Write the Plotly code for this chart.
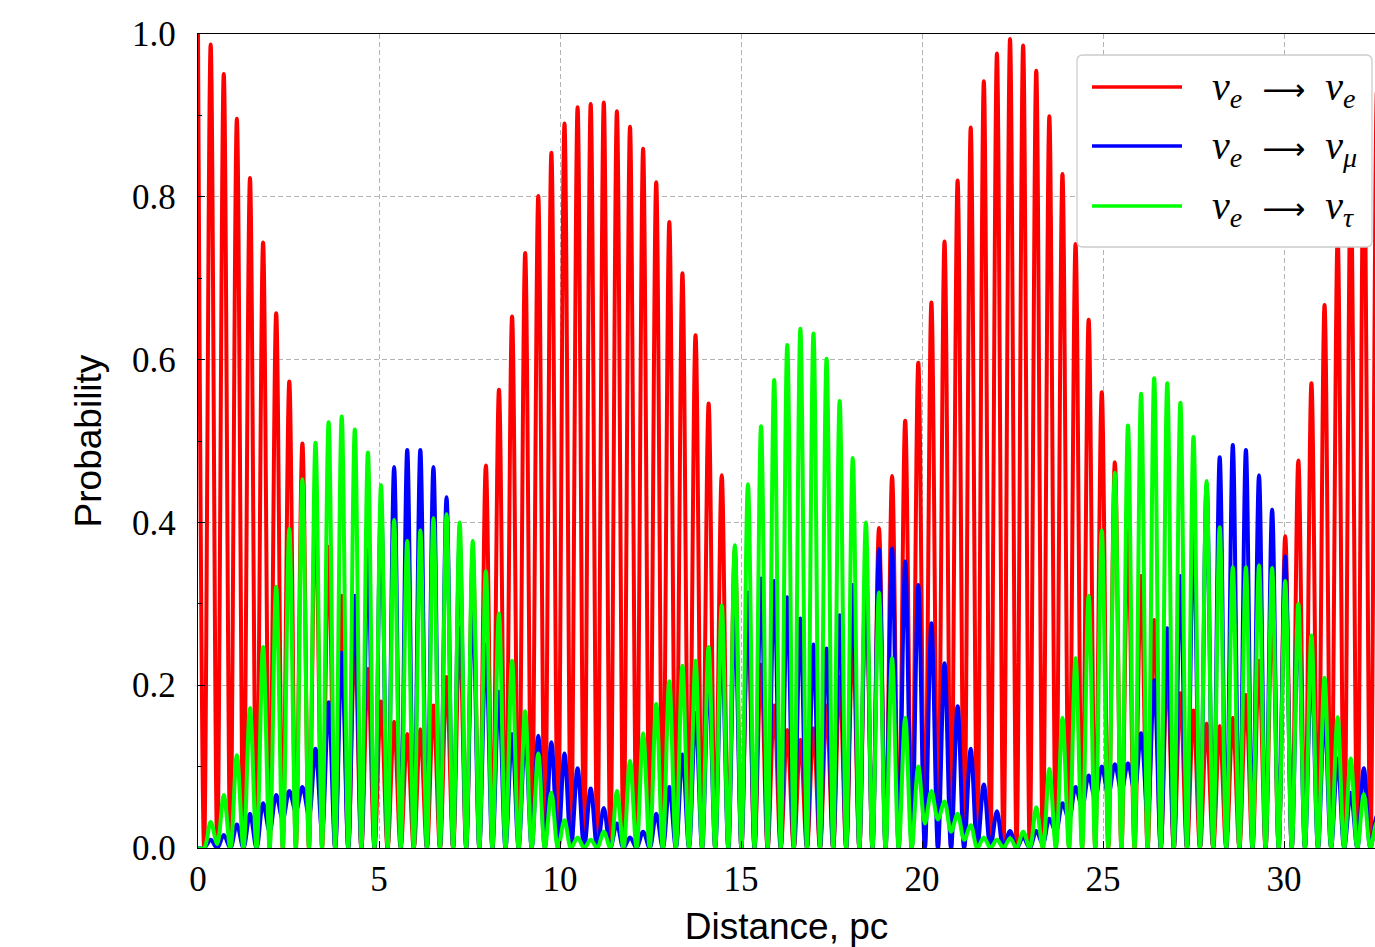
import plotly.graph_objects as go

# ---------------- data ----------------
series_names = ["ν<sub>e</sub> → ν<sub>e</sub>",
                "ν<sub>e</sub> → ν<sub>μ</sub>",
                "ν<sub>e</sub> → ν<sub>τ</sub>"]
series_colors = ["#ff0000", "#0000ff", "#00ff00"]

# fast oscillation: position of the first peak and the spacing of peaks (pc)
first_peak_pc = 0.35
peak_spacing_pc = 0.362

# value at distance 0
start_values = [1.0, 0.0, 0.0]

# peak heights (one per oscillation, k = 0..89)
red_peaks = [0.987, 0.951, 0.896, 0.823, 0.744, 0.657, 0.573, 0.497, 0.43, 0.37,
             0.31, 0.26, 0.22, 0.18, 0.155, 0.14, 0.146, 0.175, 0.21, 0.27,
             0.36, 0.47, 0.563, 0.653, 0.731, 0.801, 0.854, 0.89, 0.91, 0.914,
             0.916, 0.905, 0.886, 0.859, 0.818, 0.769, 0.706, 0.63, 0.546, 0.458,
             0.367, 0.29, 0.225, 0.175, 0.145, 0.133, 0.147, 0.175, 0.21, 0.26,
             0.33, 0.393, 0.457, 0.525, 0.596, 0.67, 0.745, 0.82, 0.885, 0.942,
             0.976, 0.994, 0.986, 0.955, 0.899, 0.828, 0.742, 0.649, 0.56, 0.474,
             0.39, 0.334, 0.28, 0.22, 0.19, 0.169, 0.153, 0.15, 0.16, 0.188,
             0.23, 0.30, 0.383, 0.476, 0.571, 0.667, 0.75, 0.82, 0.88, 0.93]
blue_peaks = [0.01, 0.016, 0.029, 0.042, 0.055, 0.065, 0.07, 0.075, 0.122, 0.179,
              0.24, 0.31, 0.367, 0.425, 0.468, 0.489, 0.489, 0.468, 0.431, 0.377,
              0.312, 0.25, 0.192, 0.14, 0.14, 0.138, 0.13, 0.116, 0.098, 0.073,
              0.049, 0.03, 0.013, 0.02, 0.042, 0.075, 0.115, 0.166, 0.214, 0.256,
              0.289, 0.314, 0.331, 0.328, 0.308, 0.282, 0.25, 0.245, 0.286, 0.323,
              0.35, 0.367, 0.368, 0.352, 0.323, 0.276, 0.227, 0.174, 0.122, 0.078,
              0.045, 0.021, 0.013, 0.021, 0.036, 0.055, 0.075, 0.089, 0.1, 0.103,
              0.104, 0.141, 0.206, 0.27, 0.334, 0.396, 0.446, 0.48, 0.495, 0.489,
              0.458, 0.416, 0.358, 0.292, 0.227, 0.166, 0.11, 0.068, 0.098, 0.04]
green_peaks = [0.032, 0.065, 0.114, 0.172, 0.247, 0.321, 0.392, 0.453, 0.498, 0.523,
               0.53, 0.514, 0.486, 0.446, 0.403, 0.377, 0.39, 0.405, 0.41, 0.40,
               0.377, 0.34, 0.288, 0.23, 0.168, 0.116, 0.068, 0.034, 0.013, 0.01,
               0.02, 0.07, 0.107, 0.141, 0.177, 0.205, 0.224, 0.23, 0.247, 0.298,
               0.372, 0.447, 0.518, 0.575, 0.618, 0.638, 0.632, 0.601, 0.549, 0.479,
               0.40, 0.314, 0.233, 0.16, 0.10, 0.07, 0.057, 0.042, 0.028, 0.013,
               0.01, 0.012, 0.02, 0.05, 0.097, 0.16, 0.233, 0.31, 0.39, 0.461,
               0.519, 0.558, 0.577, 0.571, 0.547, 0.505, 0.451, 0.394, 0.345, 0.345,
               0.347, 0.344, 0.328, 0.30, 0.261, 0.209, 0.161, 0.11, 0.066, 0.032]

# trough values (the minimum after each peak)
red_troughs = [0.0] * 90
blue_troughs = [0.0, 0.0, 0.0, 0.0, 0.02, 0.035, 0.045, 0.04, 0.02, 0.0,
                0.0, 0.0, 0.0, 0.0, 0.0, 0.0, 0.0, 0.0, 0.0, 0.0,
                0.0, 0.0, 0.0, 0.0, 0.0, 0.0, 0.0, 0.0, 0.0, 0.0,
                0.0, 0.0, 0.0, 0.0, 0.0, 0.0, 0.0, 0.0, 0.0, 0.0,
                0.0, 0.0, 0.0, 0.0, 0.0, 0.0, 0.0, 0.0, 0.0, 0.0,
                0.0, 0.0, 0.0, 0.0, 0.0, 0.0, 0.0, 0.0, 0.0, 0.0,
                0.0, 0.0, 0.0, 0.005, 0.02, 0.035, 0.05, 0.06, 0.065, 0.07,
                0.07, 0.04, 0.0, 0.0, 0.0, 0.0, 0.0, 0.0, 0.0, 0.0,
                0.0, 0.0, 0.0, 0.0, 0.0, 0.0, 0.0, 0.0, 0.0, 0.0]
green_troughs = [0.005, 0.0, 0.0, 0.0, 0.0, 0.0, 0.0, 0.0, 0.0, 0.0,
                 0.0, 0.0, 0.0, 0.0, 0.0, 0.0, 0.0, 0.0, 0.0, 0.0,
                 0.0, 0.0, 0.0, 0.0, 0.0, 0.0, 0.0, 0.0, 0.0, 0.0,
                 0.0, 0.0, 0.0, 0.0, 0.0, 0.0, 0.0, 0.0, 0.0, 0.0,
                 0.0, 0.0, 0.0, 0.0, 0.0, 0.0, 0.0, 0.0, 0.0, 0.0,
                 0.0, 0.0, 0.0, 0.0, 0.03, 0.035, 0.02, 0.01, 0.0, 0.0,
                 0.0, 0.0, 0.0, 0.0, 0.0, 0.0, 0.0, 0.0, 0.0, 0.0,
                 0.0, 0.0, 0.0, 0.0, 0.0, 0.0, 0.0, 0.0, 0.0, 0.0,
                 0.0, 0.0, 0.0, 0.0, 0.0, 0.0, 0.0, 0.0, 0.0, 0.0]

x_ticks = [0, 5, 10, 15, 20, 25, 30]
y_ticks = [0.0, 0.2, 0.4, 0.6, 0.8, 1.0]
x_title = "Distance, pc"
y_title = "Probability"

# ---------------- figure ----------------
W, H = 1375, 947
ML, MR, MT, MB = 198, 0, 34, 99
PX_PER_PC = 36.2
x_max = (W - ML - MR) / PX_PER_PC


def build(start, peaks, troughs):
    xs = [0.0, first_peak_pc - peak_spacing_pc / 2]
    ys = [start, 0.0]
    for k, (p, t) in enumerate(zip(peaks, troughs)):
        xp = first_peak_pc + k * peak_spacing_pc
        xs += [xp, xp + peak_spacing_pc / 2]
        ys += [p, t]
    return xs, ys


fig = go.Figure()
all_peaks = [red_peaks, blue_peaks, green_peaks]
all_troughs = [red_troughs, blue_troughs, green_troughs]
for name, col, st, pk, tr in zip(series_names, series_colors, start_values,
                                 all_peaks, all_troughs):
    xs, ys = build(st, pk, tr)
    fig.add_trace(go.Scatter(x=xs, y=ys, mode="lines", name=name,
                             line=dict(color=col, width=4.0, shape="spline",
                                       smoothing=1.0),
                             showlegend=False, hoverinfo="skip"))

tick_font = dict(family="Liberation Serif, DejaVu Serif, serif", size=35, color="black")
title_font = dict(family="Liberation Sans, DejaVu Sans, sans-serif", size=37, color="black")

fig.update_layout(
    width=W, height=H,
    margin=dict(l=ML, r=MR, t=MT, b=MB, pad=0),
    paper_bgcolor="white", plot_bgcolor="white",
    xaxis=dict(range=[0, x_max], tickvals=x_ticks, ticktext=[str(v) for v in x_ticks],
               showline=True, linecolor="black", linewidth=1.3, mirror=True,
               ticks="inside", ticklen=7, tickwidth=1.2, tickcolor="black",
               showgrid=True, gridcolor="#b3b3b3", gridwidth=1, griddash="5px,3px",
               zeroline=False, tickfont=tick_font,
               title=dict(text=x_title, font=title_font, standoff=14)),
    yaxis=dict(range=[0, 1], tickvals=y_ticks, ticktext=[f"{v:.1f}" for v in y_ticks],
               showline=True, linecolor="black", linewidth=1.3, mirror=False,
               ticks="inside", ticklen=7, tickwidth=1.2, tickcolor="black",
               minor=dict(ticks="inside", ticklen=4, tickwidth=1, tickcolor="black",
                          dtick=0.1, showgrid=False),
               showgrid=True, gridcolor="#b3b3b3", gridwidth=1, griddash="5px,3px",
               zeroline=False, tickfont=tick_font, ticklabelstandoff=14,
               title=dict(text=y_title, font=title_font, standoff=19)),
)


# ---------------- legend (drawn by hand to match long line samples) ----------------
def px2x(px):          # page pixel -> paper x
    return (px - ML) / (W - ML - MR)


def py2y(py):          # page pixel -> paper y
    return (H - MB - py) / (H - MT - MB)


bx0, bx1, by0, by1, r = 1077, 1372, 55, 247, 6
rx = r / (W - ML - MR)
ry = r / (H - MT - MB)
X0, X1, Y0, Y1 = px2x(bx0), px2x(bx1), py2y(by1), py2y(by0)
path = (f"M {X0+rx},{Y0} L {X1-rx},{Y0} Q {X1},{Y0} {X1},{Y0+ry} "
        f"L {X1},{Y1-ry} Q {X1},{Y1} {X1-rx},{Y1} L {X0+rx},{Y1} "
        f"Q {X0},{Y1} {X0},{Y1-ry} L {X0},{Y0+ry} Q {X0},{Y0} {X0+rx},{Y0} Z")
fig.add_shape(type="path", path=path, xref="paper", yref="paper",
              fillcolor="white", line=dict(color="#cccccc", width=1.3), layer="above")


def fmt(s):
    base, sub = s.split("<sub>")
    sub = sub.replace("</sub>", "")
    return f"<i>{base}</i><sub><i>{sub}</i></sub>"


row_y = [87, 146, 206]
for name, col, ry_px in zip(series_names, series_colors, row_y):
    fig.add_shape(type="line", xref="paper", yref="paper",
                  x0=px2x(1092), x1=px2x(1182), y0=py2y(ry_px), y1=py2y(ry_px),
                  line=dict(color=col, width=3.5), layer="above")
    left, right = name.split(" → ")
    txt = (f"{fmt(left)}\u00a0 <span style='font-family:DejaVu Sans;font-size:30px'>⟶</span>"
           f"\u00a0 {fmt(right)}")
    fig.add_annotation(x=px2x(1210), y=py2y(ry_px + 2), xref="paper", yref="paper",
                       text=txt, showarrow=False, xanchor="left", yanchor="middle",
                       font=dict(family="Liberation Serif, DejaVu Serif, serif",
                                 size=40, color="black"))

fig.write_html("out.html",
               config={"displayModeBar": False},
               post_script="document.body.style.margin='0';"
                           "document.body.style.overflow='hidden';")
